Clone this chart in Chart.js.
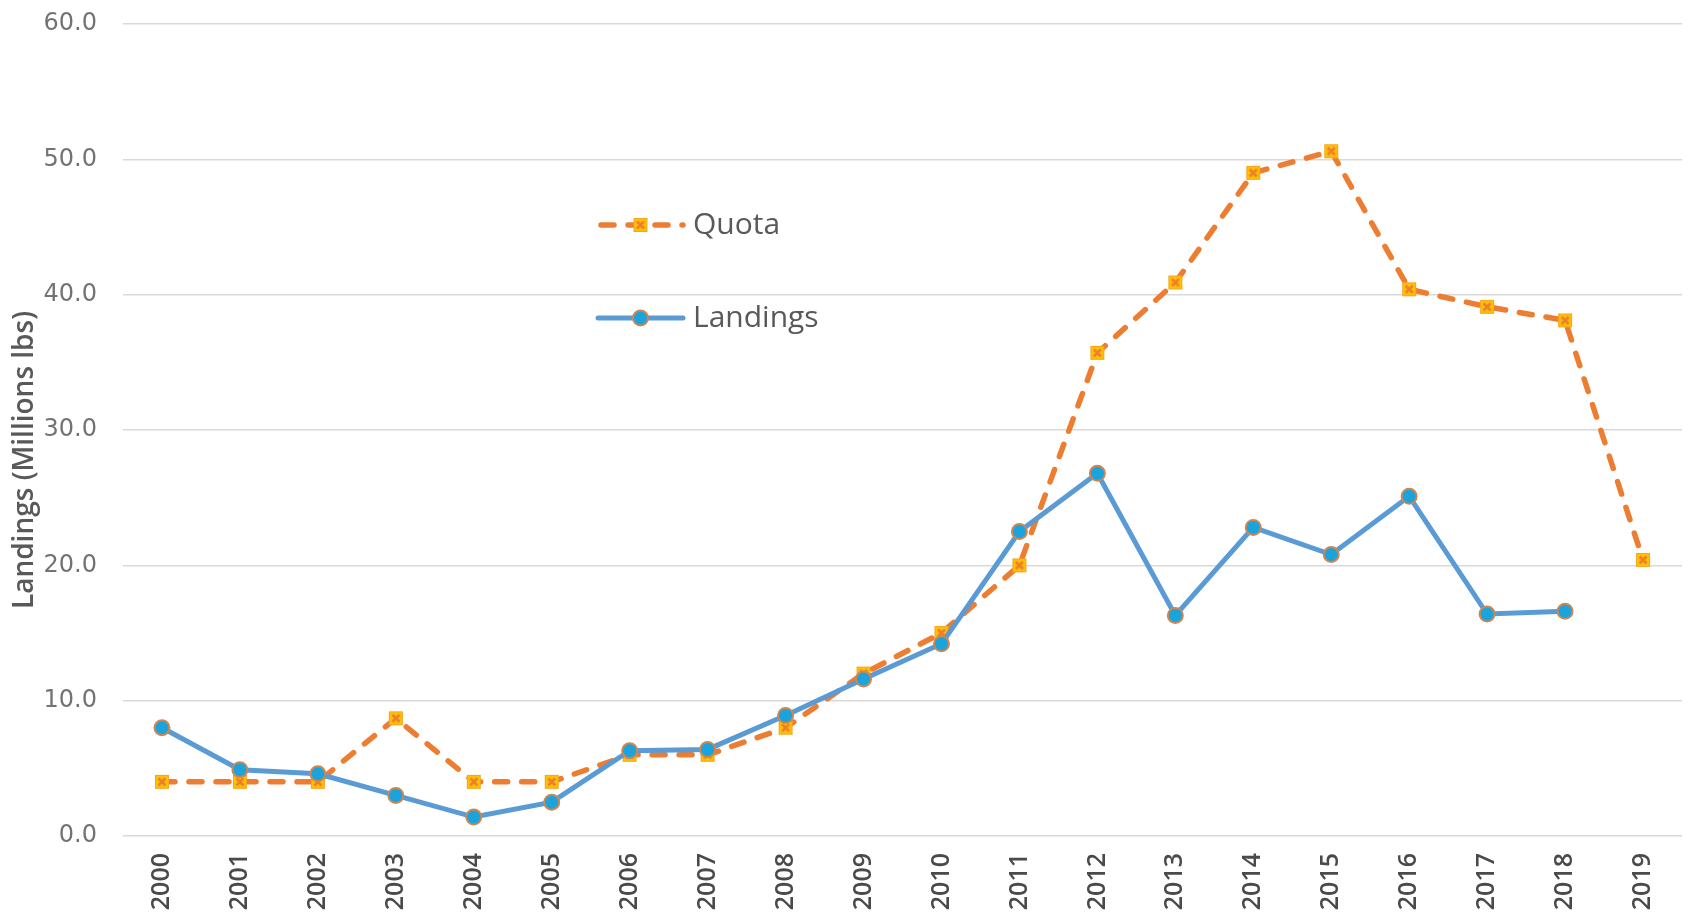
<!DOCTYPE html>
<html>
<head>
<meta charset="utf-8">
<script src="https://cdn.jsdelivr.net/npm/chart.js@4"></script>
<style>
  html, body { margin: 0; padding: 0; background: #fff; }
  #wrap { width: 1694px; height: 918px; }
</style>
</head>
<body>
<div id="wrap"><canvas id="landingsChart"></canvas></div>
<script>
const years = ['2000', '2001', '2002', '2003', '2004', '2005', '2006', '2007', '2008', '2009',
               '2010', '2011', '2012', '2013', '2014', '2015', '2016', '2017', '2018', '2019'];
const quota = [4.0, 4.0, 4.0, 8.7, 4.0, 4.0, 6.0, 6.0, 8.0, 12.0,
               15.0, 20.0, 35.7, 40.9, 49.0, 50.6, 40.4, 39.1, 38.1, 20.4];
const landings = [8.0, 4.9, 4.6, 3.0, 1.4, 2.5, 6.3, 6.4, 8.9, 11.6,
                  14.2, 22.5, 26.8, 16.3, 22.8, 20.8, 25.1, 16.4, 16.6, null];
const yTicks = [0, 10, 20, 30, 40, 50, 60];

// square marker with a cross for the quota series
const quotaMarker = document.createElement('canvas');
quotaMarker.width = 16;
quotaMarker.height = 16;
(function () {
    const c = quotaMarker.getContext('2d');
    c.fillStyle = '#FFC000';
    c.fillRect(1, 1, 14, 14);
    c.strokeStyle = '#F5A623';
    c.lineWidth = 1;
    c.strokeRect(1.5, 1.5, 13, 13);
    c.strokeStyle = '#ED7D31';
    c.lineWidth = 2.5;
    c.beginPath();
    c.moveTo(4.5, 4.5); c.lineTo(11.5, 11.5);
    c.moveTo(11.5, 4.5); c.lineTo(4.5, 11.5);
    c.stroke();
})();

const yTitlePlugin = {
    id: 'yTitle',
    afterDraw(chart) {
        const c = chart.ctx;
        c.save();
        c.translate(25, 460);
        c.rotate(-Math.PI / 2);
        c.font = '600 28px "Open Sans"';
        c.fillStyle = '#595959';
        c.textAlign = 'center';
        c.textBaseline = 'middle';
        c.fillText('Landings (Millions lbs)', 0, 0);
        c.restore();
    }
};

const legendPlugin = {
    id: 'inLegend',
    afterDraw(chart) {
        const c = chart.ctx;
        const x0 = 598, x1 = 683;
        c.save();
        c.lineCap = 'round';
        // Quota
        c.strokeStyle = '#ED7D31';
        c.lineWidth = 5.5;
        c.setLineDash([13, 14]);
        c.beginPath();
        c.moveTo(x0 + 3, 225); c.lineTo(x1, 225);
        c.stroke();
        c.setLineDash([]);
        c.drawImage(quotaMarker, (x0 + x1) / 2 - 8, 225 - 8);
        // Landings
        c.strokeStyle = '#5B9BD5';
        c.lineWidth = 5;
        c.beginPath();
        c.moveTo(x0, 318); c.lineTo(x1, 318);
        c.stroke();
        c.beginPath();
        c.arc((x0 + x1) / 2, 318, 7.5, 0, Math.PI * 2);
        c.fillStyle = '#1BA3DC';
        c.fill();
        c.strokeStyle = '#CC8755';
        c.lineWidth = 2;
        c.stroke();
        c.font = '30px "Open Sans"';
        c.fillStyle = '#595959';
        c.textBaseline = 'middle';
        c.fillText('Quota', 693, 225);
        c.fillText('Landings', 693, 318);
        c.restore();
    }
};

const ctx = document.getElementById('landingsChart');
new Chart(ctx, {
    type: 'line',
    data: {
        labels: years,
        datasets: [{
            label: 'Landings',
            data: landings,
            borderColor: '#5B9BD5',
            borderWidth: 5,
            pointStyle: 'circle',
            pointRadius: 7.5,
            pointBackgroundColor: '#1BA3DC',
            pointBorderColor: '#CC8755',
            pointBorderWidth: 2,
            tension: 0,
            order: 0
        }, {
            label: 'Quota',
            data: quota,
            borderColor: '#ED7D31',
            borderWidth: 5.5,
            borderDash: [13, 14],
            borderCapStyle: 'round',
            pointStyle: quotaMarker,
            tension: 0,
            order: 1
        }]
    },
    options: {
        responsive: true,
        maintainAspectRatio: false,
        animation: false,
        layout: { padding: { top: 24, right: 12, left: 0, bottom: 0 } },
        plugins: {
            legend: { display: false },
            tooltip: { enabled: false }
        },
        scales: {
            x: {
                offset: true,
                grid: { display: false, drawTicks: false },
                border: { display: false },
                afterFit: (scale) => {
                    scale.height = 82;
                    scale.paddingLeft = 0;
                    scale.paddingRight = 0;
                },
                ticks: {
                    minRotation: 90,
                    maxRotation: 90,
                    padding: 17,
                    color: '#4a4a4a',
                    font: { family: 'Open Sans', size: 25, weight: '600' }
                }
            },
            y: {
                min: 0,
                max: 60,
                afterFit: (scale) => {
                    scale.width = 123;
                    scale.paddingTop = 0;
                    scale.paddingBottom = 0;
                },
                afterBuildTicks: (scale) => { scale.ticks = yTicks.map(v => ({ value: v })); },
                grid: { color: '#D9D9D9', lineWidth: 1.5, drawTicks: false },
                border: { display: false },
                ticks: {
                    padding: 26,
                    color: '#737373',
                    font: { family: 'DejaVu Sans', size: 24 },
                    callback: (v) => v.toFixed(1)
                }
            }
        }
    },
    plugins: [yTitlePlugin, legendPlugin]
});
</script>
</body>
</html>
